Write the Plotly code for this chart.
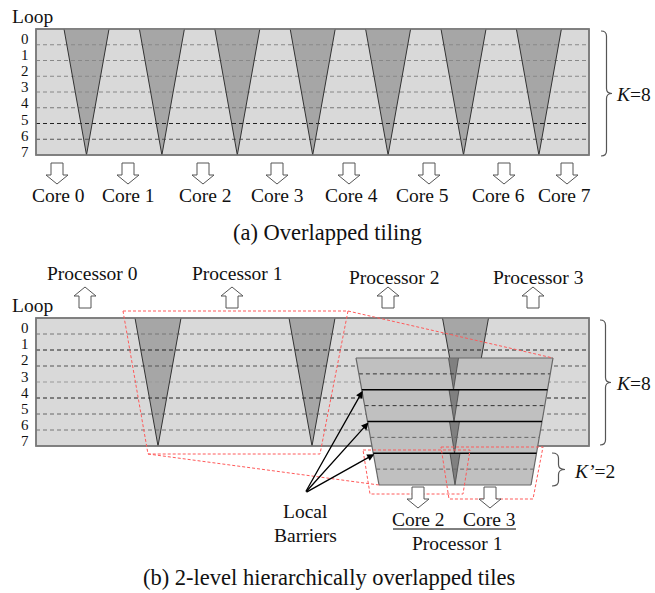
import plotly.graph_objects as go

# ---- diagram content -------------------------------------------------------
LOOP_ROWS = [str(i) for i in range(8)]              # loop iterations 0..7 (K = 8)
CORES_A = ["Core 0", "Core 1", "Core 2", "Core 3", "Core 4", "Core 5", "Core 6", "Core 7"]
PROCESSORS = ["Processor 0", "Processor 1", "Processor 2", "Processor 3"]
INNER_CORES = ["Core 2", "Core 3"]
K_OUTER = 8
K_INNER = 2
N_TILES_A = 7                                       # overlap wedges in (a)
N_BANDS = K_OUTER // K_INNER                        # inner tile bands in (b)

# ---- layout constants (canvas units = pixels) -------------------------------
W, H = 655, 593
SERIF = "Liberation Serif"
LIGHT = "#d9d9d9"
DARK = "#a6a6a6"
BAND = "#c0c0c0"
WEDGE = "#808080"
EDGE = "#7a7a7a"
RED = "#ff5a5a"

shapes = []
annotations = []


def poly(points, fill=None, color=EDGE, width=1.0, dash=None):
    path = "M " + " L ".join(f"{x},{y}" for x, y in points) + " Z"
    line = dict(color=color, width=width)
    if dash:
        line["dash"] = dash
    shapes.append(dict(type="path", xref="x", yref="y", path=path,
                       fillcolor=fill if fill else "rgba(0,0,0,0)", line=line))


def seg(x0, y0, x1, y1, color="#333", width=1.0, dash=None):
    line = dict(color=color, width=width)
    if dash:
        line["dash"] = dash
    shapes.append(dict(type="line", xref="x", yref="y",
                       x0=x0, y0=y0, x1=x1, y1=y1, line=line))


def text(x, y, s, size=19.5, xanchor="center", yanchor="middle"):
    annotations.append(dict(x=x, y=y, xref="x", yref="y", text=s, showarrow=False,
                            xanchor=xanchor, yanchor=yanchor,
                            font=dict(family=SERIF, size=size, color="#111")))


def hollow_arrow(cx, y0, down=True):
    # block arrow: shaft 12 wide / 12 long, head 22 wide / 9 long
    s = 1 if down else -1
    pts = [(cx - 6, y0), (cx + 6, y0), (cx + 6, y0 + s * 12), (cx + 11, y0 + s * 12),
           (cx, y0 + s * 21), (cx - 11, y0 + s * 12), (cx - 6, y0 + s * 12)]
    poly(pts, fill="white", color="#555", width=1.0)


def brace(x0, yt, yb, w):
    ym = (yt + yb) / 2
    xm = x0 + w / 2
    r = 5
    path = (f"M {x0},{yt} Q {xm},{yt} {xm},{yt + r} L {xm},{ym - r} "
            f"Q {xm},{ym} {x0 + w},{ym} Q {xm},{ym} {xm},{ym + r} "
            f"L {xm},{yb - r} Q {xm},{yb} {x0},{yb}")
    shapes.append(dict(type="path", xref="x", yref="y", path=path,
                       line=dict(color="#555", width=1.2)))


def iteration_grid(x0, x1, top, bottom):
    shapes.append(dict(type="rect", xref="x", yref="y", x0=x0, x1=x1, y0=top, y1=bottom,
                       fillcolor=LIGHT, line=dict(color=EDGE, width=1.5)))


def row_lines(x0, x1, top, rowh, dash_colors):
    for i in range(1, K_OUTER):
        seg(x0, top + i * rowh, x1, top + i * rowh, color=dash_colors[i - 1],
            width=1.0, dash="4px,3px")


def row_labels(top, pitch):
    for i, lab in enumerate(LOOP_ROWS):
        text(31, top + pitch * i, lab, size=15, xanchor="right")


# =========================== (a) Overlapped tiling ===========================
AX0, AX1, ATOP, ABOT = 36, 589, 29, 155
arow = (ABOT - ATOP) / K_OUTER
iteration_grid(AX0, AX1, ATOP, ABOT)
tri_first, tri_pitch, tri_half = 86.5, 75.4, 22.5
for t in range(N_TILES_A):
    c = tri_first + t * tri_pitch
    shapes.append(dict(type="path", xref="x", yref="y",
                       path=f"M {c - tri_half},{ATOP} L {c + tri_half},{ATOP} L {c},{ABOT} Z",
                       fillcolor=DARK, line=dict(width=0)))
row_lines(AX0, AX1, ATOP, arow,
          ["#888", "#888", "#888", "#888", "#777", "#222", "#555"])
for t in range(N_TILES_A):
    c = tri_first + t * tri_pitch
    seg(c - tri_half, ATOP, c, ABOT, color="#333", width=1.0)
    seg(c + tri_half, ATOP, c, ABOT, color="#333", width=1.0)
shapes.append(dict(type="rect", xref="x", yref="y", x0=AX0, x1=AX1, y0=ATOP, y1=ABOT,
                   line=dict(color=EDGE, width=1.5)))
text(10, 16, "Loop", size=19.5, xanchor="left")
row_labels(38.5, 16.2)
brace(601, 31, 156, 11)
text(614, 94, "<i>K</i>=8", size=19.5, xanchor="left")

core_arrow_x = [57, 128, 203, 277, 349, 429, 504, 567]
core_label_x = [58, 128, 205, 277, 351, 422, 498, 564]
for cx, lx, lab in zip(core_arrow_x, core_label_x, CORES_A):
    hollow_arrow(cx, 163, down=True)
    text(lx, 195, lab)
text(327, 232, "(a) Overlapped tiling", size=22.5)

# ================= (b) 2-level hierarchically overlapped tiles ================
BX0, BX1, BTOP, BBOT = 36, 589, 318, 446
brow = (BBOT - BTOP) / K_OUTER
iteration_grid(BX0, BX1, BTOP, BBOT)
outer_tiles = [158, 312, 465.5]
for c in outer_tiles:
    shapes.append(dict(type="path", xref="x", yref="y",
                       path=f"M {c - 23},{BTOP} L {c + 23},{BTOP} L {c},{BBOT} Z",
                       fillcolor=DARK, line=dict(width=0)))
row_lines(BX0, BX1, BTOP, brow,
          ["#777", "#222", "#555", "#999", "#222", "#666", "#777"])
for c in outer_tiles:
    seg(c - 23, BTOP, c, BBOT, color="#333", width=1.0)
    seg(c + 23, BTOP, c, BBOT, color="#333", width=1.0)
shapes.append(dict(type="rect", xref="x", yref="y", x0=BX0, x1=BX1, y0=BTOP, y1=BBOT,
                   line=dict(color=EDGE, width=1.5)))

# zoomed-in processor tile: K' = 2 bands stacked, two cores each
ZT, ZB = 358, 485
ZL0, ZL1 = 356, 379      # left edge x at top / bottom
ZR0, ZR1 = 553, 531      # right edge x at top / bottom
bh = (ZB - ZT) / N_BANDS


def lx(y):
    return ZL0 + (ZL1 - ZL0) * (y - ZT) / (ZB - ZT)


def rx(y):
    return ZR0 + (ZR1 - ZR0) * (y - ZT) / (ZB - ZT)


for b in range(N_BANDS):
    t, bt = ZT + b * bh, ZT + (b + 1) * bh
    poly([(lx(t), t), (rx(t), t), (rx(bt), bt), (lx(bt), bt)], fill=BAND, width=0)
    wc = 453.5 + 0.5 * b
    poly([(wc - 5, t), (wc + 5, t), (wc, bt)], fill=WEDGE, width=0)
    seg(wc - 5, t, wc, bt, color="#444", width=0.8)
    seg(wc + 5, t, wc, bt, color="#444", width=0.8)
    ym = t + bh / 2
    seg(lx(ym), ym, rx(ym), ym, color="#333" if b < 2 else "#666", width=1.0, dash="4px,3px")
seg(ZL0, ZT, ZL1, ZB, color="#666", width=1.2)
seg(ZR0, ZT, ZR1, ZB, color="#666", width=1.2)
seg(lx(ZT), ZT, rx(ZT), ZT, color="#666", width=1.2)
seg(lx(ZB), ZB, rx(ZB), ZB, color="#666", width=1.2)
barrier_tips = []
for b in range(1, N_BANDS):
    y = ZT + b * bh
    seg(lx(y), y, rx(y), y, color="#000", width=1.5)
    barrier_tips.append((lx(y) + 1, y + 1))

# red dashed outlines: processor-1 tile, its projection and the two core tiles
RD = "3px,2px"
poly([(123, 311), (348, 311), (320, 454), (148, 454)], color=RED, width=1.0, dash=RD)
seg(348, 311, 553, 358, color=RED, width=1.0, dash=RD)
seg(148, 454, 379, 485, color=RED, width=1.0, dash=RD)
poly([(363, 450), (470, 450), (463, 494), (370, 494)], color=RED, width=1.0, dash=RD)
poly([(441, 447), (543, 447), (533, 499), (449, 499)], color=RED, width=1.0, dash=RD)

# local barrier pointers
for tx, ty in barrier_tips:
    annotations.append(dict(x=tx, y=ty, ax=305, ay=493, xref="x", yref="y",
                            axref="x", ayref="y", text="", showarrow=True,
                            arrowhead=2, arrowsize=1.1, arrowwidth=1.3, arrowcolor="#000",
                            standoff=0, startstandoff=0))
text(305, 511, "Local")
text(305, 535, "Barriers")

# processor arrows and labels
proc_arrow_x = [85, 232, 388, 533]
proc_label = [(92, 273), (237, 273), (394, 277), (538, 277)]
for cx, (px, py), lab in zip(proc_arrow_x, proc_label, PROCESSORS):
    hollow_arrow(cx, 308, down=False)
    text(px, py, lab)

text(10, 305, "Loop", size=19.5, xanchor="left")
row_labels(328, 16.2)
brace(600, 320, 445, 11)
text(614, 383, "<i>K</i>=8", size=19.5, xanchor="left")
brace(552, 453, 486, 13)
text(572, 471, "<i>K’</i>=2", size=19.5, xanchor="left")

# inner cores of processor 1
for cx, lab, lxp in zip([418, 490], INNER_CORES, [418, 489]):
    hollow_arrow(cx, 487, down=True)
    text(lxp, 519, lab)
seg(393, 529, 516, 529, color="#000", width=1.0)
text(457, 543, "Processor 1")
text(329, 577, "(b) 2-level hierarchically overlapped tiles", size=22.5)

fig = go.Figure()
fig.update_layout(
    width=W, height=H,
    margin=dict(l=0, r=0, t=0, b=0),
    paper_bgcolor="white", plot_bgcolor="white",
    xaxis=dict(range=[0, W], visible=False, fixedrange=True),
    yaxis=dict(range=[H, 0], visible=False, fixedrange=True),
    shapes=shapes, annotations=annotations, showlegend=False,
)
fig.write_html("out.html")
